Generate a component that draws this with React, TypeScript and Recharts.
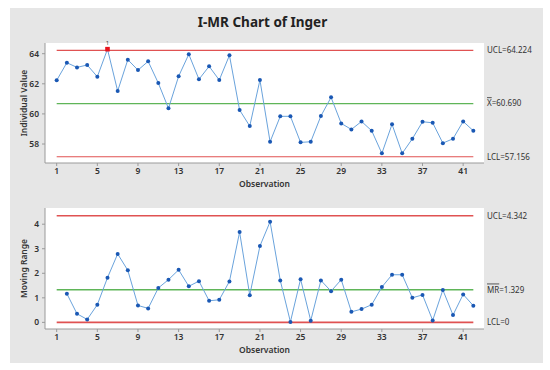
import React from 'react';
import { LineChart, Line, XAxis, YAxis, ReferenceLine, CartesianGrid } from 'recharts';

const observations = [1,2,3,4,5,6,7,8,9,10,11,12,13,14,15,16,17,18,19,20,21,22,23,24,25,26,27,28,29,30,31,32,33,34,35,36,37,38,39,40,41,42];
const individualValues = [62.23,63.40,63.09,63.25,62.47,64.30,61.52,63.60,62.91,63.49,62.05,60.37,62.50,63.96,62.30,63.16,62.25,63.89,60.26,59.19,62.25,58.15,59.84,59.84,58.11,58.15,59.86,61.10,59.37,58.97,59.50,58.88,57.38,59.31,57.38,58.35,59.48,59.41,58.06,58.35,59.50,58.88];
const movingRanges = [null,1.17,0.35,0.12,0.72,1.82,2.79,2.12,0.69,0.57,1.40,1.74,2.14,1.47,1.68,0.88,0.92,1.67,3.68,1.11,3.11,4.10,1.71,0.02,1.76,0.07,1.71,1.27,1.74,0.43,0.54,0.72,1.44,1.94,1.94,1.00,1.12,0.08,1.32,0.30,1.14,0.68];
const xTicks = [1,5,9,13,17,21,25,29,33,37,41];
const iTicks = [58,60,62,64];
const mrTicks = [0,1,2,3,4];
const iLimits = { ucl: 64.224, center: 60.690, lcl: 57.156 };
const mrLimits = { ucl: 4.342, center: 1.329, lcl: 0 };

const iData = observations.map((o, i) => ({ obs: o, value: individualValues[i] }));
const mrData = observations.map((o, i) => ({ obs: o, value: movingRanges[i] }));

const RED = '#e05252';
const GREEN = '#5fb558';
const LINE = '#6aa3dc';
const DOT = '#1a58b4';
const TEXT = '#333333';
const FONT = "'Noto Sans', sans-serif";
const firstObs = observations[0];
const lastObs = observations[observations.length - 1];

const rightLabel = (name: React.ReactNode, val: string) => (props: any) => {
  const vb = props.viewBox || {};
  return (
    <text x={vb.x + vb.width + 3} y={vb.y} dy="0.35em" fontSize={8} fill={TEXT} fontFamily={FONT}>
      {name}
      <tspan>{'=' + val}</tspan>
    </text>
  );
};

const IDot = (props: any) => {
  const { cx, cy, value, index } = props;
  if (cx == null || cy == null) return <g key={'i' + index} />;
  if (value > iLimits.ucl) {
    return (
      <g key={'i' + index}>
        <rect x={cx - 2.3} y={cy - 2.3} width={4.6} height={4.6} fill="#e8121c" />
        <text x={cx} y={cy - 4} fontSize={6} textAnchor="middle" fill="#444" fontFamily={FONT}>1</text>
      </g>
    );
  }
  return <circle key={'i' + index} cx={cx} cy={cy} r={2} fill={DOT} />;
};

const MDot = (props: any) => {
  const { cx, cy, index } = props;
  if (cx == null || cy == null || props.value == null) return <g key={'m' + index} />;
  return <circle key={'m' + index} cx={cx} cy={cy} r={2} fill={DOT} />;
};

const tickStyle = { fontSize: 8.5, fill: TEXT, fontWeight: 600, fontFamily: FONT };
const axisLabelStyle = { fontSize: 8.5, fill: TEXT, fontWeight: 600, fontFamily: FONT };

function renderChart(
  data: any[], domain: [number, number], ticks: number[], limits: any, yLabel: string,
  centerName: React.ReactNode, texts: string[], dot: any, lw: number,
  height: number, marginTop: number, xAxisHeight: number
) {
  return (
    <LineChart width={550} height={height} data={data} margin={{ top: marginTop, right: 66, bottom: 0, left: 0 }}>
      <CartesianGrid horizontal={false} vertical={false} fill="#ffffff" />
      <XAxis
        dataKey="obs" type="number" domain={[-0.15, 43.05]} ticks={xTicks}
        height={xAxisHeight} tickSize={3} tickMargin={2} stroke="#9a9a9a" tick={tickStyle}
        label={{ value: 'Observation', position: 'insideTop', offset: 18, style: axisLabelStyle }}
      />
      <XAxis xAxisId="top" orientation="top" type="number" domain={[-0.15, 43.05]} height={0} tick={false} tickLine={false} stroke="#9a9a9a" />
      <YAxis
        type="number" domain={domain} ticks={ticks} width={45}
        tickSize={3} tickMargin={3} stroke="#9a9a9a" tick={tickStyle}
        label={{ value: yLabel, angle: -90, position: 'center', dx: 1, style: axisLabelStyle }}
      />
      <YAxis yAxisId="right" orientation="right" type="number" domain={domain} width={0} tick={false} tickLine={false} stroke="#9a9a9a" />
      <ReferenceLine segment={[{ x: firstObs, y: limits.ucl }, { x: lastObs, y: limits.ucl }]} stroke={RED} strokeWidth={lw} />
      <ReferenceLine segment={[{ x: firstObs, y: limits.center }, { x: lastObs, y: limits.center }]} stroke={GREEN} strokeWidth={lw} />
      <ReferenceLine segment={[{ x: firstObs, y: limits.lcl }, { x: lastObs, y: limits.lcl }]} stroke={RED} strokeWidth={lw} />
      <ReferenceLine y={limits.ucl} stroke="none" label={{ content: rightLabel('UCL', texts[0]) }} />
      <ReferenceLine y={limits.center} stroke="none" label={{ content: rightLabel(centerName, texts[1]) }} />
      <ReferenceLine y={limits.lcl} stroke="none" label={{ content: rightLabel('LCL', texts[2]) }} />
      <Line dataKey="value" stroke={LINE} strokeWidth={1} dot={dot} activeDot={false} isAnimationActive={false} />
    </LineChart>
  );
}

export default function App() {
  return (
    <div style={{ position: 'absolute', left: 0, top: 0, width: 550, height: 370, fontFamily: FONT }}>
      <div style={{ position: 'absolute', left: 10, top: 8, width: 533, height: 355, background: '#e6e6e6' }} />
      <div style={{ position: 'absolute', left: 0, top: 13, width: 525, textAlign: 'center', fontSize: 13.5, lineHeight: '18px', fontWeight: 700, color: '#222', fontFamily: FONT }}>
        I-MR Chart of Inger
      </div>
      <div style={{ position: 'absolute', left: 0, top: 0 }}>
        {renderChart(iData, [56.74, 64.71], iTicks, iLimits, 'Individual Value',
          <tspan style={{ textDecoration: 'overline' }}>X</tspan>,
          ['64.224', '60.690', '57.156'], IDot, 1.2, 205, 43, 42)}
      </div>
      <div style={{ position: 'absolute', left: 0, top: 190 }}>
        {renderChart(mrData, [-0.27, 4.66], mrTicks, mrLimits, 'Moving Range',
          <tspan style={{ textDecoration: 'overline' }}>MR</tspan>,
          ['4.342', '1.329', '0'], MDot, 1.6, 180, 18, 41)}
      </div>
    </div>
  );
}
